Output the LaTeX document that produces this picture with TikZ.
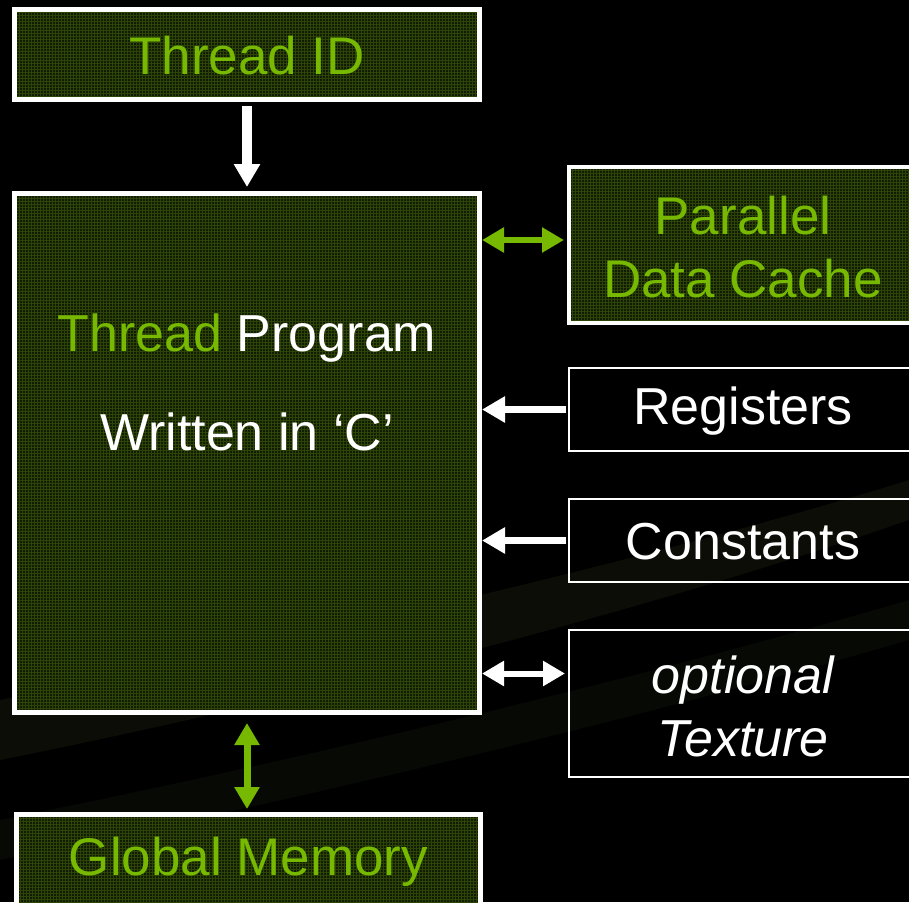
\documentclass[tikz,border=0pt]{standalone}
\usepackage{fontspec}
\setmainfont{Liberation Sans}
\usetikzlibrary{arrows.meta}
\definecolor{nvgreen}{RGB}{118,185,0}
\definecolor{boxfill}{RGB}{18,28,3}
\definecolor{gridcol}{RGB}{62,96,8}
\definecolor{swoosh}{RGB}{11,13,6}
\tikzset{
  gridbox/.style={draw=white, line width=5pt, fill=boxfill, inner sep=0pt,
    path picture={\draw[gridcol, line width=0.6pt, opacity=0.6]
      (path picture bounding box.south west) grid[step=3pt] (path picture bounding box.north east);}},
  plainbox/.style={draw=white, line width=2pt, inner sep=0pt},
  lbl/.style={font=\fontsize{53}{63}\selectfont, align=center, inner sep=0pt},
  whitearrow/.style={draw=white, fill=white, line width=7pt, -{Triangle[width=25pt,length=23pt]}},
  greendbl/.style={draw=nvgreen, fill=nvgreen, line width=6pt, {Triangle[width=24pt,length=22pt]}-{Triangle[width=24pt,length=22pt]}},
  whitedbl/.style={draw=white, fill=white, line width=6pt, {Triangle[width=24pt,length=22pt]}-{Triangle[width=24pt,length=22pt]}}
}
\begin{document}
\begin{tikzpicture}[x=1pt, y=-1pt]
\fill[black] (0,0) rectangle (909,902);
\clip (0,0) rectangle (909,902);
\useasboundingbox (0,0) rectangle (909,902);
% faint background swooshes
\fill[swoosh] (0,700) .. controls (300,640) and (650,560) .. (909,480) -- (909,520) .. controls (650,610) and (300,700) .. (0,760) -- cycle;
\fill[swoosh, opacity=0.7] (0,820) .. controls (250,770) and (600,690) .. (909,600) -- (909,640) .. controls (600,730) and (250,810) .. (0,860) -- cycle;

% boxes
\node[gridbox, minimum width=465pt, minimum height=90pt] (tid) at (247,54.5) {};
\node[lbl, text=nvgreen] (tidt) at (247,56) {Thread ID};

\node[gridbox, minimum width=465pt, minimum height=519pt] (main) at (247,453) {};
\node[lbl, font=\fontsize{52}{63}\selectfont] (mt1) at (247,338) {\textcolor{nvgreen}{Thread} \textcolor{white}{Program}};
\node[lbl, font=\fontsize{52}{63}\selectfont, text=white] (mt2) at (247,432) {Written in ‘C’};

\node[gridbox, minimum width=464pt, minimum height=91pt] (gm) at (248.5,860) {};
\node[lbl, text=nvgreen] (gmt) at (248.5,862) {Global Memory};

\node[gridbox, line width=4pt, minimum width=348pt, minimum height=156pt] (pdc) at (743,245) {};
\node[lbl, text=nvgreen] (pdct) at (743,247) {Parallel\\Data Cache};

\node[plainbox, minimum width=348pt, minimum height=83pt] (reg) at (743,409.5) {};
\node[lbl, text=white, font=\fontsize{52}{63}\selectfont] (regt) at (743,411) {Registers};

\node[plainbox, minimum width=348pt, minimum height=83pt] (con) at (743,540.5) {};
\node[lbl, text=white, font=\fontsize{52}{63}\selectfont] (cont) at (743,542) {Constants};

\node[plainbox, minimum width=348pt, minimum height=147pt] (tex) at (743,703.5) {};
\node[lbl, text=white, font=\fontsize{52}{63}\itshape\selectfont] (text) at (743,706) {optional\\Texture};

% connectors
\draw[whitearrow, line width=10pt] ([yshift=-4pt]tid.south) -- ([yshift=4pt]main.north);
\draw[greendbl] ([yshift=5pt, xshift=-3pt]pdc.west) -- ([yshift=5pt]pdc.west -| main.east);
\draw[whitearrow] ([xshift=-2pt]reg.west) -- (reg.west -| main.east);
\draw[whitearrow] ([xshift=-2pt]con.west) -- (con.west -| main.east);
\draw[whitedbl] ([yshift=30pt, xshift=-3pt]tex.west) -- ([yshift=30pt]tex.west -| main.east);
\draw[greendbl, line width=7pt] ([yshift=-8pt]main.south) -- ([yshift=3pt]main.south |- gm.north);
\end{tikzpicture}
\end{document}
